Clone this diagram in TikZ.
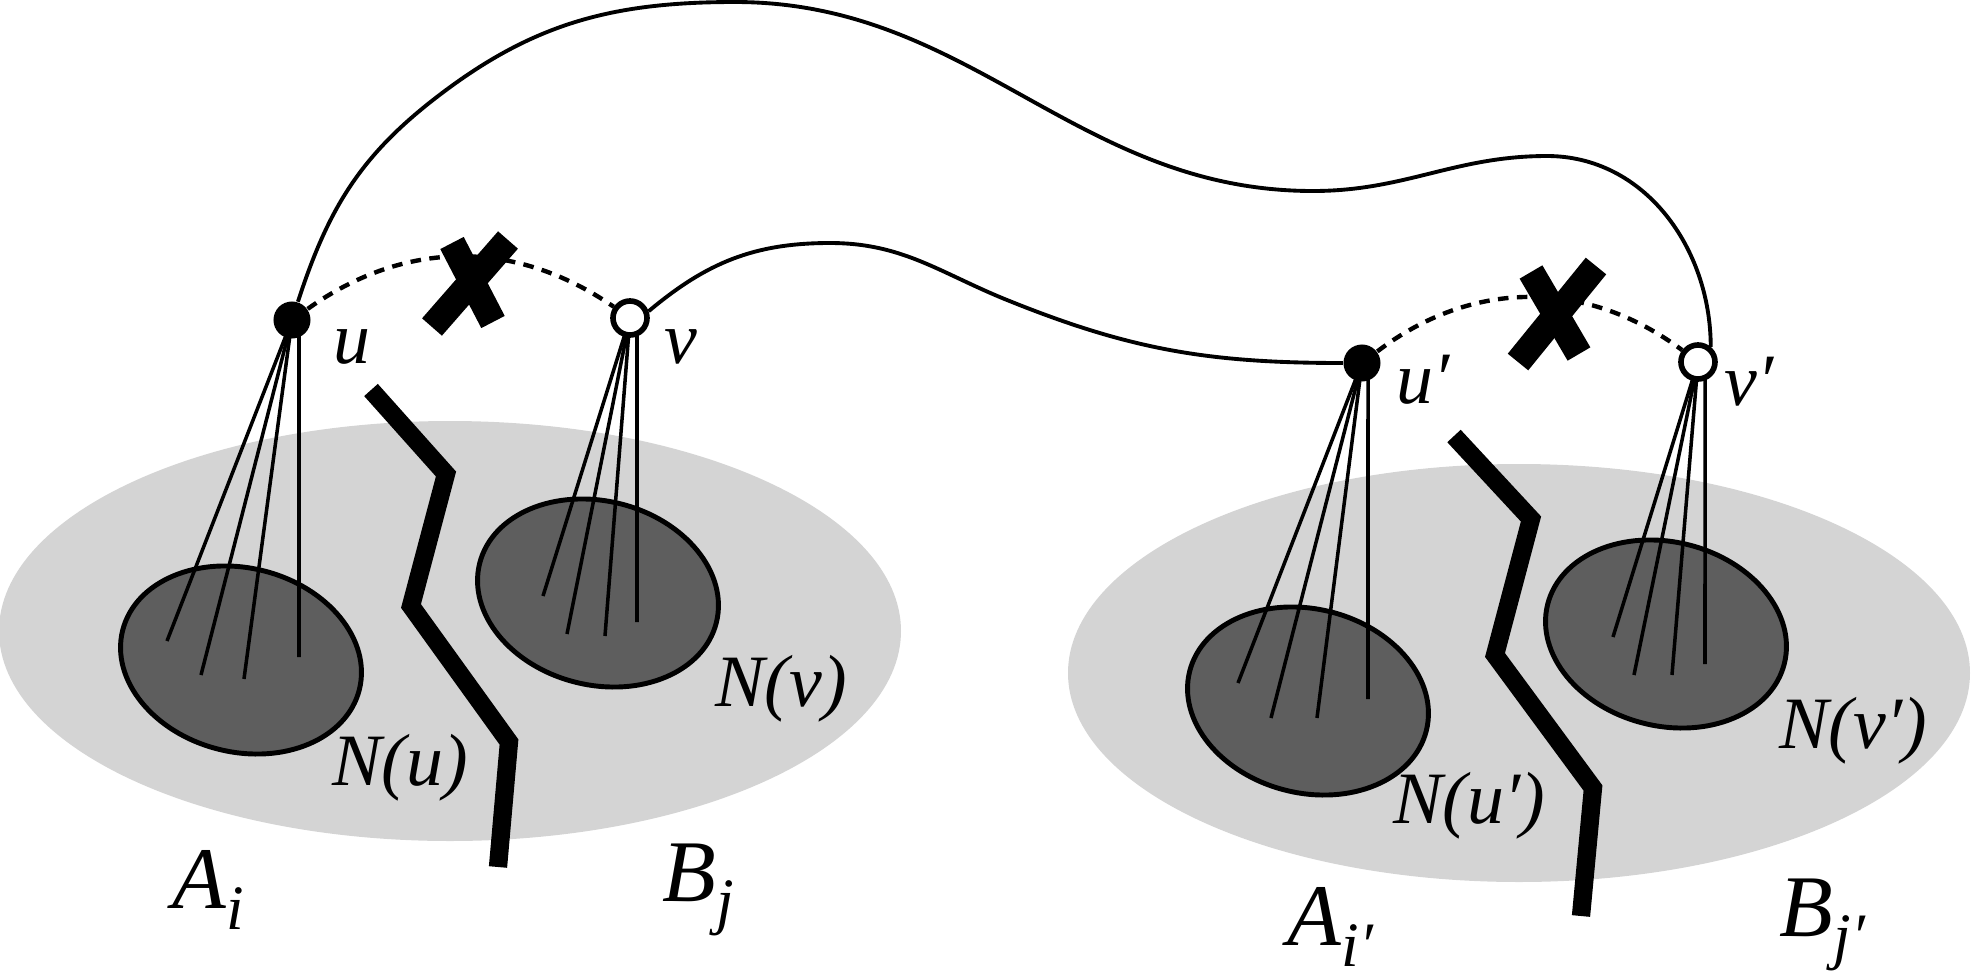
\documentclass[tikz,border=0pt]{standalone}
\usepackage{fontspec}
\setmainfont{Liberation Serif}
\definecolor{lightg}{RGB}{212,212,212}
\definecolor{darkg}{RGB}{94,94,94}
\pgfdeclarelayer{bg}
\pgfsetlayers{bg,main}
\newcommand\subidx[1]{\raisebox{-0.21cm}{\fontsize{18}{18}\selectfont #1}}
\begin{document}
\begin{tikzpicture}[x=0.01cm,y=0.01cm,
  solidv/.style={circle,fill=black,inner sep=0pt,minimum size=0.37cm},
  openv/.style={circle,draw=black,fill=white,line width=1.6pt,inner sep=0pt,minimum size=0.34cm},
  region/.style={fill=lightg},
  nbhd/.style={fill=darkg,draw=black,line width=1.4pt},
  fan/.style={line width=1pt},
  edge/.style={line width=1.1pt},
  gone/.style={line width=1.25pt,dash pattern=on 3pt off 2.4pt},
  wall/.style={line width=5.2pt,line cap=butt,line join=miter},
  cut/.style={line width=7.5pt,line cap=butt},
  lbl/.style={font=\fontsize{21}{21}\selectfont\itshape,inner sep=0pt,anchor=base west},
  setlbl/.style={font=\fontsize{25}{25}\selectfont\itshape,inner sep=0pt,anchor=base west}]
\useasboundingbox (0,0) rectangle (1971,-978);
% vertices
\node[solidv] (u) at (292,-320) {};
\node[openv] (v) at (630,-318) {};
\node[solidv] (up) at (1362,-363) {};
\node[openv] (vp) at (1698,-362) {};
\coordinate (t1) at (433,-100);
\coordinate (t2) at (735,-2);
\coordinate (t3) at (1313,-191);
\coordinate (t4) at (1547,-156);
\coordinate (s1) at (830,-243);
\coordinate (s2) at (1007,-300);
\begin{pgfonlayer}{bg}
  % regions
  \fill[region] (450,-631) ellipse [x radius=451, y radius=210];
  \fill[region] (1519,-673) ellipse [x radius=451, y radius=209];
  % neighbourhoods
  \draw[nbhd, shift={(241,-660)}, rotate=-14] (0,0) ellipse [x radius=122, y radius=92];
  \draw[nbhd, shift={(598,-593)}, rotate=-14] (0,0) ellipse [x radius=122, y radius=92];
  \draw[nbhd, shift={(1308,-701)}, rotate=-14] (0,0) ellipse [x radius=122, y radius=92];
  \draw[nbhd, shift={(1666,-634)}, rotate=-14] (0,0) ellipse [x radius=122, y radius=92];
  % fans
  \draw[fan] (u.center) -- (167,-641);
  \draw[fan] (u.center) -- (201,-675);
  \draw[fan] (u.center) -- (244,-679);
  \draw[fan] ([xshift=0.07cm]u.center) -- (299,-657);
  \draw[fan] (v.center) -- (543,-596);
  \draw[fan] (v.center) -- (567,-634);
  \draw[fan] (v.center) -- (605,-636);
  \draw[fan] ([xshift=0.07cm]v.center) -- (637,-622);
  \draw[fan] (up.center) -- (1238,-683);
  \draw[fan] (up.center) -- (1271,-718);
  \draw[fan] (up.center) -- (1317,-718);
  \draw[fan] ([xshift=0.06cm]up.center) -- (1368,-699);
  \draw[fan] (vp.center) -- (1613,-637);
  \draw[fan] (vp.center) -- (1634,-675);
  \draw[fan] (vp.center) -- (1672,-675);
  \draw[fan] ([xshift=0.07cm]vp.center) -- (1705,-664);
  % walls
  \draw[wall] (371,-390) -- (446,-474) -- (411,-606) -- (509,-742) -- (498,-867);
  \draw[wall] (1454,-436) -- (1531,-519) -- (1495,-655) -- (1593,-788) -- (1581,-916);
  % edges
  \draw[edge] (u.72) to[out=72,in=218] (t1) to[out=38,in=180] (t2)
     to[out=0,in=180] (t3) to[out=0,in=180] (t4) to[out=0,in=90] (vp.50);
  \draw[edge] (v.20) to[out=40,in=180] (s1) to[out=0,in=158] (s2)
     to[out=-22,in=180] (up.west);
  \draw[gone] (u) to[bend left=35] (v);
  \draw[gone] (up) to[bend left=37] (vp);
  % cuts
  \draw[cut] (452,-243) -- (493,-322);
  \draw[cut] (508,-240) -- (432,-327);
  \draw[cut] (1531,-272) -- (1579,-354);
  \draw[cut] (1596,-266) -- (1518,-362);
\end{pgfonlayer}
% labels
\node[lbl] (lu) at (333,-363) {u};
\node[lbl] (lv) at (664,-363) {v};
\node[lbl] (lup) at (1396,-403) {u′};
\node[lbl] (lvp) at (1724,-405) {v′};
\node[lbl] (lNu) at (332,-785) {N(u)};
\node[lbl] (lNv) at (715,-706) {N(v)};
\node[lbl] (lNup) at (1393,-823) {N(u′)};
\node[lbl] (lNvp) at (1779,-748) {N(v′)};
\node[setlbl] (lA) at (172,-908) {A\subidx{i}};
\node[setlbl] (lB) at (662,-901) {B\subidx{j}};
\node[setlbl] (lAp) at (1287,-945) {A\subidx{i′}};
\node[setlbl] (lBp) at (1779,-936) {B\subidx{j′}};
\end{tikzpicture}
\end{document}
